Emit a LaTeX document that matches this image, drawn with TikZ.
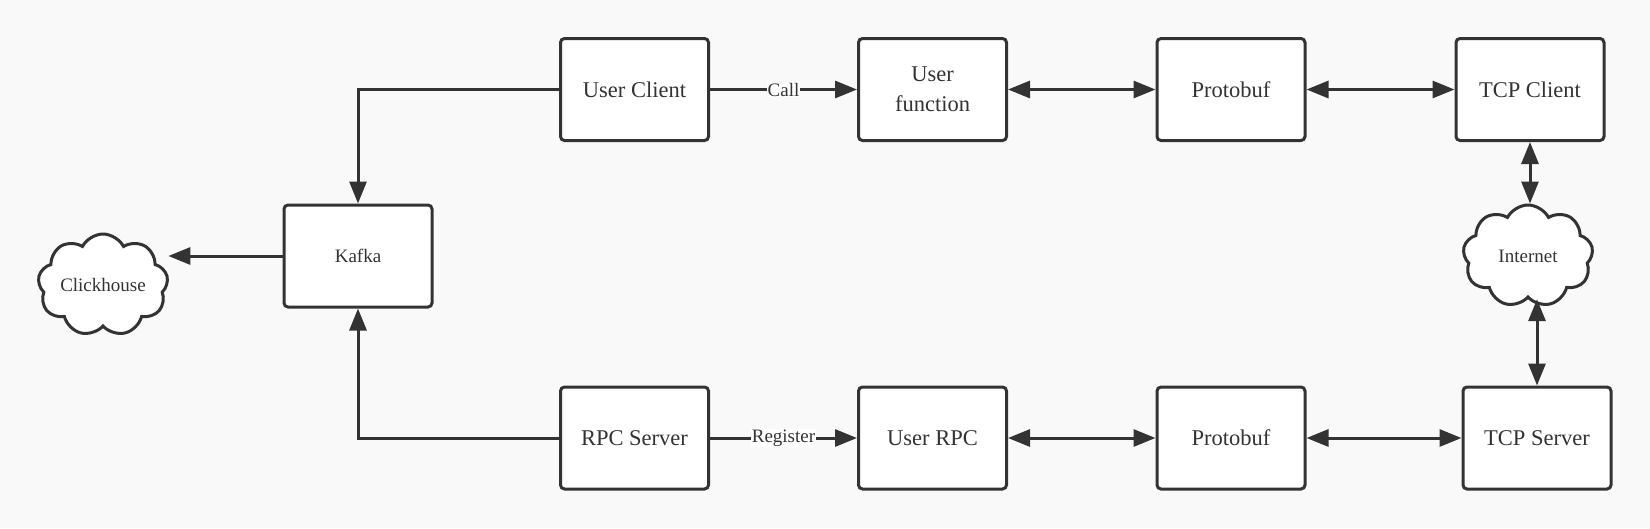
\documentclass[tikz,border=0pt]{standalone}
\usepackage{fontspec}
\setmainfont{LiberationSerif-Regular.ttf}
\usetikzlibrary{arrows.meta,shapes.symbols}
\definecolor{bg}{HTML}{F9F9F9}
\definecolor{ink}{HTML}{333333}
\begin{document}
\begin{tikzpicture}[x=1pt,y=-1pt,
  box/.style={draw=ink,fill=white,line width=3pt,rounded corners=4pt,minimum width=148pt,minimum height=102pt,align=center,text=ink,font=\fontsize{22.5}{30}\selectfont},
  smallbox/.style={box,font=\fontsize{19}{23}\selectfont},
  cloudnode/.style={cloud,cloud puffs=9,cloud puff arc=125,cloud ignores aspect,draw=ink,fill=white,line width=3pt,minimum width=130pt,minimum height=102pt,text=ink,font=\fontsize{19}{23}\selectfont},
  conn/.style={draw=ink,line width=3pt},
  arr/.style={conn,-{Triangle[length=22pt,width=17pt]}},
  darr/.style={conn,{Triangle[length=22pt,width=17pt]}-{Triangle[length=22pt,width=17pt]}},
  lab/.style={fill=white,inner sep=1pt,text=ink,font=\fontsize{19}{23}\selectfont}]
\fill[bg] (0,0) rectangle (1650,528);
\useasboundingbox (0,0) rectangle (1650,528);
% top row
\node[box] (uc) at (634.5,89.5) {User Client};
\node[box] (uf) at (932.5,89.5) {User\\function};
\node[box] (pb1) at (1231,89.5) {Protobuf};
\node[box] (tcpc) at (1530,89.5) {TCP Client};
% bottom row
\node[box] (rpc) at (634.5,438) {RPC Server};
\node[box] (urpc) at (932.5,438) {User RPC};
\node[box] (pb2) at (1231,438) {Protobuf};
\node[box] (tcps) at (1537,438) {TCP Server};
% left
\node[smallbox] (kafka) at (358,256) {Kafka};
\node[cloudnode] (ch) at (103,285) {Clickhouse};
\node[cloudnode] (inet) at (1528,256) {Internet};
% connectors
\draw[arr] (uc.west) -| (kafka.north);
\draw[arr] (rpc.west) -| (kafka.south);
\draw[arr] (kafka.west) -- (kafka.west -| ch.east);
\draw[arr] (uc.east) -- node[lab] {Call} (uf.west);
\draw[darr] (uf.east) -- (pb1.west);
\draw[darr] (pb1.east) -- (tcpc.west);
\draw[darr] (tcpc.south) -- (tcpc.south |- inet.north);
\draw[darr] (tcps.north |- inet.south) -- (tcps.north);
\draw[arr] (rpc.east) -- node[lab] {Register} (urpc.west);
\draw[darr] (urpc.east) -- (pb2.west);
\draw[darr] (pb2.east) -- (tcps.west);
\end{tikzpicture}
\end{document}
